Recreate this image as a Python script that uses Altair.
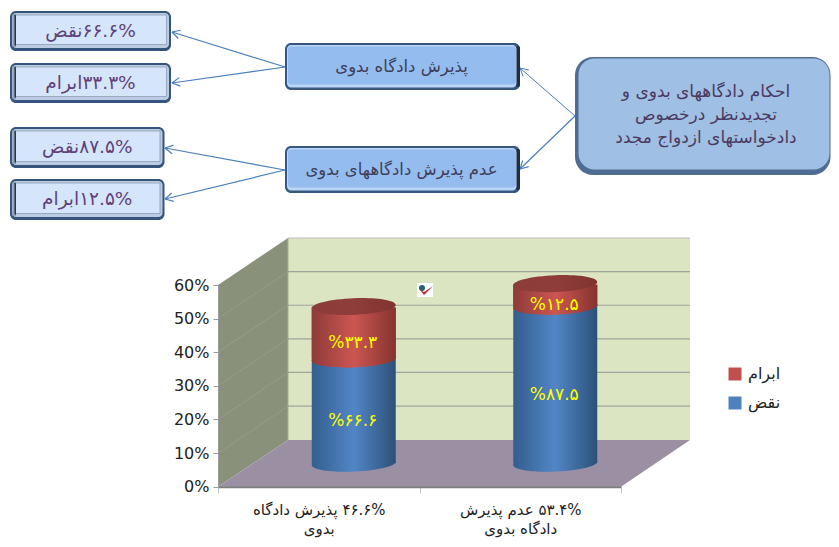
import math
import altair as alt
import pandas as pd

# ---- values ----
RLE, PDF = "\u202b", "\u202c"
categories = [RLE + "۴۶.۶% پذیرش دادگاه" + PDF + "|بدوی",
              RLE + "۵۳.۴%  عدم پذیرش" + PDF + "|دادگاه بدوی"]
bar_totals = [46.6, 53.4]
naqz_share = [66.6, 87.5]
ebram_share = [33.3, 12.5]
naqz_labels = ["%۶۶.۶", "%۸۷.۵"]
ebram_labels = ["%۳۳.۳", "%۱۲.۵"]
series_names = ["ابرام", "نقض"]
series_colors = ["#C0504D", "#4F81BD"]
y_ticks = [0, 10, 20, 30, 40, 50, 60]
left_box_texts = ["۶۶.۶%نقض", "۳۳.۳%ابرام", "۸۷.۵%نقض", "۱۲.۵%ابرام"]
mid_box_texts = ["پذیرش دادگاه بدوی", "عدم پذیرش دادگاههای بدوی"]
main_box_lines = ["احکام دادگاههای بدوی و", "تجدیدنظر درخصوص", "دادخواستهای ازدواج مجدد"]

# ---- layout (reference-picture pixels, page margin removed in px/py) ----
FONT = "DejaVu Sans"
M = 8
W, H = 823, 531
def px(v): return v - M
def py(v): return v - M
Y0, Y60 = 486.7, 285.0
DEPTH_PX = 47.0
per_unit = (Y0 - Y60) / 60
MID_SHIFT = -23.5
BACK_SHIFT = -DEPTH_PX

dummy = pd.DataFrame({"i": [0]})
rows = []
for c, t, a, b, la, lb in zip(categories, bar_totals, naqz_share, ebram_share, naqz_labels, ebram_labels):
    split = t * a / 100
    rows.append(dict(cat=c, total=t, split=split, zero=0, naqz_mid=split / 2,
                     ebram_mid=(split + t) / 2, naqz_label=la, ebram_label=lb))
bars = pd.DataFrame(rows)
legend_rows = pd.DataFrame(
    [dict(cat=c, lo=lo, hi=hi, series=s) for c, t, sp in zip(categories, bar_totals, bars["split"])
     for s, lo, hi in ((series_names[1], 0, sp), (series_names[0], sp, t))])
grid = pd.DataFrame({"v": y_ticks, "v2": [v + DEPTH_PX / per_unit for v in y_ticks]})

x_scale = alt.Scale(type="band", domain=categories, range=[px(218), px(621)], paddingInner=0, paddingOuter=0)
y_scale = alt.Scale(domain=[0, 60], range=[py(Y0), py(Y60)])
X = alt.X("cat:N", scale=x_scale, title=None, sort=None,
          axis=alt.Axis(labelExpr="split(datum.label,'|')", labelAngle=0, labelFont=FONT, labelFontSize=15,
                        labelColor="#222222", labelLimit=0, labelPadding=10, labelLineHeight=19,
                        offset=-(H - py(Y0)), domainColor="#7f7f7f", domainWidth=2, tickColor="#c4c4c4",
                        tickSize=6, tickBand="extent", grid=False, zindex=1))
Y_AXIS = alt.Axis(values=y_ticks, format=".0f", labelExpr="datum.value+'%'", labelFont=FONT, labelFontSize=16,
                  labelColor="#222222", labelPadding=4, offset=-px(218), domainColor="#9a9a9a",
                  tickColor="#9a9a9a", tickSize=5, grid=False, title=None, zindex=1)


def rect(x0, y0, x1, y1, fill, r=0, **kw):
    return alt.Chart(dummy).mark_rect(fill=fill, cornerRadius=r, **kw).encode(
        x=alt.value(px(x0)), x2=alt.value(px(x1)), y=alt.value(py(y0)), y2=alt.value(py(y1)))


def seg(x0, y0, x1, y1, color, w=1.2):
    return alt.Chart(dummy).mark_rule(color=color, strokeWidth=w).encode(
        x=alt.value(px(x0)), x2=alt.value(px(x1)), y=alt.value(py(y0)), y2=alt.value(py(y1)))


def label(x, y, s, color, size, **kw):
    return alt.Chart(dummy).mark_text(text=s, color=color, fontSize=size, font=FONT, align="center",
                                      baseline="middle", **kw).encode(x=alt.value(px(x)), y=alt.value(py(y)))


def polygon(points, fill):
    cx = sum(p[0] for p in points) / len(points)
    cy = sum(p[1] for p in points) / len(points)
    k = 500.0
    path = "M" + " L".join(f"{(a - cx) / k:.5f},{(b - cy) / k:.5f}" for a, b in points) + " Z"
    return alt.Chart(dummy).mark_point(shape=path, size=(2 * k) ** 2, filled=True, fill=fill, opacity=1,
                                       strokeWidth=0).encode(x=alt.value(px(cx)), y=alt.value(py(cy)))


def arrow(x0, y0, x1, y1, color="#4A7EBB", w=1.2):
    ang = math.atan2(y0 - y1, x0 - x1)
    out = [seg(x0, y0, x1, y1, color, w)]
    for d in (0.5, -0.5):
        out.append(seg(x1, y1, x1 + 9 * math.cos(ang + d), y1 + 9 * math.sin(ang + d), color, w))
    return out


def left_box(x0, y0, x1, y1, text):
    cx = (x0 + x1) / 2
    return [rect(x0, y0, x1, y1, "#35557D", 6),
            rect(x0 + 2, y0 + 2, x1 - 2, y1 - 3, "#B9CCE3", 4),
            rect(x0 + 2.5, y0 + 3, x0 + 6, y1 - 4, "#8FA3BC"),
            rect(x0 + 5.5, y0 + 4, x1 - 4.5, y1 - 6.5, "#D5E6FC", stroke="#8E9CAE", strokeWidth=0.8),
            rect(x0 + 4.5, y0 + 4, x0 + 6, y1 - 5.5, "#2B3847"),
            label(cx, (y0 + y1) / 2 - 0.5, RLE + text + PDF, "#5F4179", 18.5)]


def mid_box(x0, y0, x1, y1, text):
    return [rect(x0, y0, x1, y1, "#37577F", 6),
            rect(x1 - 4, y0 + 3, x1, y1 - 3, "#1E2F45", 2),
            rect(x0 + 2, y0 + 2, x1 - 3.5, y1 - 2.5, "#BBD5F7", 4),
            rect(x0 + 3, y0 + 3.5, x1 - 4, y1 - 5.5, "#94BCEE", 3),
            label((x0 + x1) / 2 - 1, (y0 + y1) / 2 + 0.5, text, "#3E3E58", 16.5)]


def main_box(x0, y0, x1, y1):
    out = [rect(x0, y0, x1, y1, "#4F6D93", 18),
           rect(x0 + 3.5, y0 + 1.5, x1 - 1, y1 - 5.5, "#A0BFE4", 16)]
    for s, yy in zip(main_box_lines, (92, 115, 138)):
        out.append(label(706, yy, s, "#4B3A60", 17))
    return out


# ---- 3-D frame ----
layers = [
    rect(288, 238, 690, 440, "#DBE5C1"),
    polygon([(218, 285), (288, 238), (288, 440), (218, Y0)], "#8A917A"),
    polygon([(218, Y0), (288, 440), (690, 440), (621, Y0)], "#9B8FA3"),
    seg(288, 238, 690, 238, "#BDBDBD", 1),
    seg(288, 238, 288, 440, "#A8AD98", 1),
]
inner = grid[(grid.v > 0) & (grid.v < 60)]
layers.append(alt.Chart(inner).mark_rule(color="#8E8E8E", strokeWidth=1.2, opacity=0.75, yOffset=BACK_SHIFT).encode(
    y=alt.Y("v:Q", scale=y_scale, axis=Y_AXIS), x=alt.value(px(288)), x2=alt.value(px(690))))
layers.append(alt.Chart(inner).mark_rule(color="#979D88", strokeWidth=1).encode(
    y=alt.Y("v:Q", scale=y_scale, axis=Y_AXIS), y2="v2:Q", x=alt.value(px(218)), x2=alt.value(px(288))))

# ---- cylinders ----
def stops(edge, mid, edge2):
    return alt.LinearGradient(gradient="linear", x1=0, x2=1, y1=0, y2=0,
                              stops=[alt.GradientStop(offset=0, color=edge), alt.GradientStop(offset=0.5, color=mid),
                                     alt.GradientStop(offset=1, color=edge2)])

blue_g = stops("#335E8E", "#5186C6", "#2C5178")
red_g = stops("#8E3B39", "#CC5652", "#86332F")
top_g = stops("#8C3C3A", "#8F3D3A", "#7F3431")
BAR_W = 84
XOFF = 35
ELL = "M-1,0.04 A1,0.2 -2.3 1 1 1,-0.04 A1,0.2 -2.3 1 1 -1,0.04 Z"


def body(lo, hi, fill, top_nudge=0):
    return alt.Chart(bars).mark_bar(size=BAR_W, fill=fill, xOffset=XOFF, yOffset=MID_SHIFT + top_nudge,
                                    y2Offset=MID_SHIFT).encode(
        x=X, y=alt.Y(f"{hi}:Q", scale=y_scale, axis=Y_AXIS), y2=f"{lo}:Q")


def ellipse(field, fill):
    return alt.Chart(bars).mark_point(shape=ELL, size=BAR_W ** 2, filled=True, fill=fill, opacity=1, strokeWidth=0,
                                      xOffset=XOFF, yOffset=MID_SHIFT).encode(
        x=X, y=alt.Y(f"{field}:Q", scale=y_scale, axis=Y_AXIS))


legend_layer = alt.Chart(legend_rows).mark_bar(size=BAR_W - 4, xOffset=XOFF, yOffset=MID_SHIFT + 3, y2Offset=MID_SHIFT).encode(
    x=X, y=alt.Y("hi:Q", scale=y_scale, axis=Y_AXIS), y2="lo:Q",
    color=alt.Color("series:N", scale=alt.Scale(domain=series_names, range=series_colors),
                    legend=alt.Legend(title=None, orient="none", legendX=px(727), legendY=py(366), symbolType="square",
                                      symbolSize=169, symbolStrokeWidth=0, labelFont=FONT, labelFontSize=16,
                                      labelColor="#222222", rowPadding=13, symbolOffset=0,
                                      labelOffset=5)))
layers += [
    legend_layer,
    ellipse("zero", blue_g),
    body("zero", "split", blue_g),
    ellipse("split", red_g),
    body("split", "total", red_g, 1),
    ellipse("split", red_g),
    body("split", "total", red_g, 1),
    ellipse("total", top_g),
]
for field, lab in (("naqz_mid", "naqz_label"), ("ebram_mid", "ebram_label")):
    layers.append(alt.Chart(bars).mark_text(color="#FFFF00", fontSize=17, font=FONT, xOffset=XOFF - 1,
                                            yOffset=MID_SHIFT + 10, baseline="middle").encode(
        x=X, y=alt.Y(f"{field}:Q", scale=y_scale, axis=Y_AXIS), text=f"{lab}:N"))

# ---- small icon ----
layers += [
    rect(417, 283, 433, 297, "#FFFFFF"),
    alt.Chart(dummy).mark_point(shape="circle", size=36, filled=True, fill="#2C5F70", opacity=1, strokeWidth=0).encode(
        x=alt.value(px(422)), y=alt.value(py(288))),
    polygon([(420, 290), (424, 295), (433, 286), (424, 292)], "#C0272D"),
]

# ---- flow diagram ----
for a in (arrow(285, 67, 172, 32), arrow(285, 67, 172, 83), arrow(285, 170, 165, 148), arrow(285, 170, 165, 199),
          arrow(575, 116, 520, 68, w=1), arrow(575, 116, 520, 169)):
    layers += a
for (y0, y1, xr), s in zip(((11, 51, 171), (63, 103, 171), (127, 168, 164.5), (179, 220, 164.5)), left_box_texts):
    layers += left_box(10, y0, xr, y1, s)
layers += mid_box(285, 43, 520, 90, mid_box_texts[0])
layers += mid_box(285, 146, 520, 193, mid_box_texts[1])
layers += main_box(575, 57, 830.5, 175)

chart = alt.layer(*layers).properties(
    width=W, height=H, padding=0, background="#FFFFFF",
    autosize=alt.AutoSizeParams(type="none", contains="padding"),
).configure_view(stroke=None)

chart.save("out.html", embed_options={"renderer": "svg", "actions": False})
